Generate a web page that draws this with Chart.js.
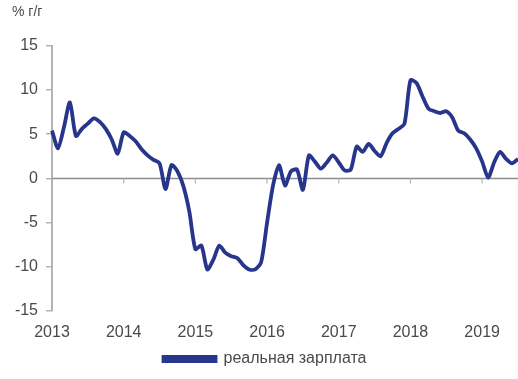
<!DOCTYPE html>
<html>
<head>
<meta charset="utf-8">
<script src="https://cdn.jsdelivr.net/npm/chart.js@4/dist/chart.umd.min.js"></script>
<style>
  html, body { margin: 0; padding: 0; background: #fff; }
  #wrap { width: 518px; height: 379px; }
</style>
</head>
<body>
<div id="wrap"><canvas id="c" width="518" height="379"></canvas></div>
<script>
// Real wage growth, % year on year, monthly Jan 2013 – Jul 2019
const years = ['2013', '2014', '2015', '2016', '2017', '2018', '2019'];
const lastYearMonths = 7;
const yTicks = [-15, -10, -5, 0, 5, 10, 15];
const seriesName = 'реальная зарплата';
const unitLabel = '% г/г';

const realWage = [
  5.4, 3.4, 5.8, 8.6, 4.8, 5.6, 6.2, 6.8, 6.4, 5.6, 4.4, 2.8,       // 2013
  5.2, 4.8, 4.2, 3.3, 2.6, 2.1, 1.7, -1.2, 1.5, 0.8, -0.9, -3.8,    // 2014
  -8.0, -7.6, -10.3, -9.2, -7.6, -8.4, -8.8, -9.0, -9.8, -10.3, -10.3, -9.5, // 2015
  -5.0, -0.8, 1.5, -0.8, 0.8, 1.0, -1.3, 2.6, 1.9, 1.1, 1.8, 2.6,   // 2016
  1.8, 0.9, 1.0, 3.6, 3.0, 3.9, 3.1, 2.5, 4.0, 5.1, 5.6, 6.2,       // 2017
  11.1, 10.8, 9.3, 7.9, 7.6, 7.4, 7.6, 6.9, 5.4, 5.1, 4.4, 3.4,     // 2018
  1.9, 0.1, 1.8, 3.0, 2.2, 1.7, 2.2                                 // 2019
];

// month labels: one per data point, year shown only at January
const months = [];
years.forEach((y, i) => {
  const n = i === years.length - 1 ? lastYearMonths : 12;
  for (let m = 1; m <= n; m++) months.push(y + '-' + String(m).padStart(2, '0'));
});

const axisGrey = '#b4b4b4';
const zeroGrey = '#8c8c8c';
const textGrey = '#4a4a4a';
const lineBlue = '#27358c';

// zero line across the plot with small year ticks hanging below it
const zeroLine = {
  id: 'zeroLine',
  beforeDatasetsDraw(chart) {
    const { ctx, chartArea, scales } = chart;
    const y0 = scales.y.getPixelForValue(0);
    ctx.save();
    ctx.strokeStyle = zeroGrey;
    ctx.lineWidth = 1.5;
    ctx.beginPath();
    ctx.moveTo(chartArea.left, y0);
    ctx.lineTo(chartArea.right, y0);
    ctx.stroke();
    ctx.strokeStyle = axisGrey;
    ctx.lineWidth = 1.2;
    months.forEach((lab, i) => {
      if (i > 0 && lab.endsWith('-01')) {
        const x = scales.x.getPixelForValue(i);
        ctx.beginPath();
        ctx.moveTo(x, y0);
        ctx.lineTo(x, y0 + 5);
        ctx.stroke();
      }
    });
    ctx.restore();
  }
};

new Chart(document.getElementById('c'), {
  type: 'line',
  data: {
    labels: months,
    datasets: [{
      label: seriesName,
      data: realWage,
      borderColor: lineBlue,
      backgroundColor: lineBlue,
      borderWidth: 3.8,
      pointRadius: 0,
      tension: 0.25,
      fill: false
    }]
  },
  options: {
    responsive: false,
    animation: false,
    layout: { padding: { left: 12, right: 0, top: 0, bottom: 2 } },
    plugins: {
      title: {
        display: true,
        text: unitLabel,
        align: 'start',
        color: textGrey,
        font: { family: 'Liberation Sans', size: 14, weight: 'normal' },
        padding: { top: 4, bottom: 25 }
      },
      legend: {
        position: 'bottom',
        labels: {
          color: textGrey,
          font: { family: 'Liberation Sans', size: 16 },
          boxWidth: 52,
          boxHeight: 4,
          padding: 10
        }
      },
      tooltip: { enabled: false }
    },
    scales: {
      x: {
        type: 'category',
        offset: false,
        grid: { display: false },
        border: { display: false },
        ticks: {
          autoSkip: false,
          maxRotation: 0,
          padding: 4,
          color: textGrey,
          font: { family: 'Liberation Sans', size: 16 },
          callback(value) {
            const lab = months[value];
            return lab.endsWith('-01') ? lab.slice(0, 4) : null;
          }
        },
        afterFit(scale) { scale.height = 30; }
      },
      y: {
        min: yTicks[0],
        max: yTicks[yTicks.length - 1],
        afterBuildTicks(scale) { scale.ticks = yTicks.map(v => ({ value: v })); },
        grid: {
          drawOnChartArea: false,
          drawTicks: true,
          tickLength: 6,
          color: axisGrey,
          lineWidth: 1.5
        },
        border: { display: true, color: axisGrey, width: 2 },
        ticks: {
          padding: 8,
          color: textGrey,
          font: { family: 'Liberation Sans', size: 16 }
        },
        afterFit(scale) { scale.width = 40; }
      }
    }
  },
  plugins: [zeroLine]
});
</script>
</body>
</html>
